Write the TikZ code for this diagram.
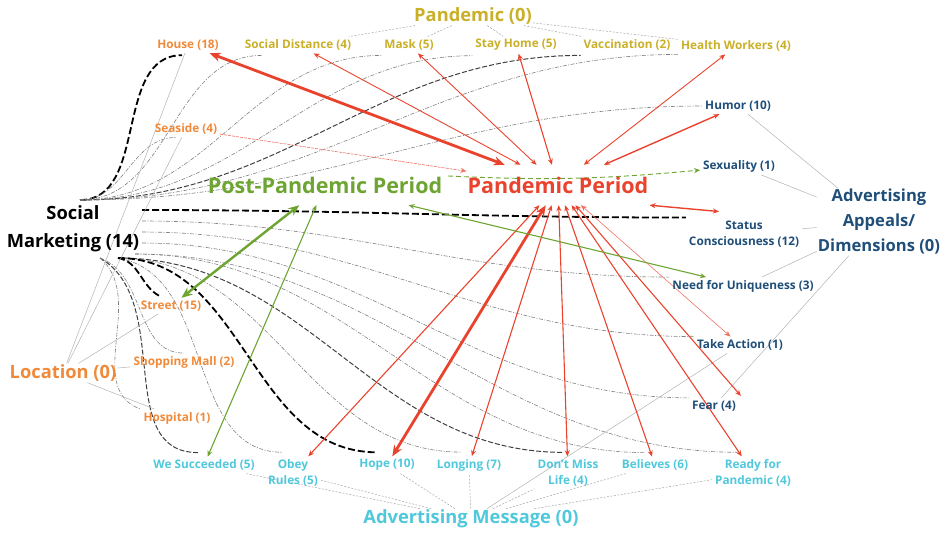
\documentclass[tikz,border=0pt]{standalone}
\usepackage{fontspec}
\setmainfont{Open Sans}
\usetikzlibrary{arrows.meta}
\definecolor{cgold}{RGB}{201,176,40}
\definecolor{corange}{RGB}{240,138,58}
\definecolor{cblue}{RGB}{31,78,121}
\definecolor{ccyan}{RGB}{80,200,220}
\definecolor{cred}{RGB}{234,67,45}
\definecolor{cgreen}{RGB}{110,165,50}
\pgfdeclarelayer{background}
\pgfsetlayers{background,main}
\tikzset{
 lbl/.style={font=\bfseries\fontsize{11.8}{16.5}\selectfont, inner sep=1pt, outer sep=2pt, align=center},
 cat/.style={font=\bfseries\fontsize{18.3}{25}\selectfont, inner sep=1pt, align=center},
 big/.style={font=\bfseries\fontsize{21.5}{24}\selectfont, inner xsep=1pt, inner ysep=0pt, minimum height=40pt},
 tipS/.tip={Stealth[length=6pt,width=5pt]},
 tipL/.tip={Stealth[length=11pt,width=9pt]},
 redarr/.style={draw=cred, line width=1.1pt, arrows={tipS-tipS}},
 redthick/.style={draw=cred, line width=2.8pt, arrows={tipL-tipL}},
 redthin/.style={draw=cred!75, line width=0.6pt},
 greenarr/.style={draw=cgreen, line width=1.1pt, arrows={tipS-tipS}},
 greenthick/.style={draw=cgreen, line width=2.4pt, arrows={tipL-tipL}},
 greendash/.style={draw=cgreen, line width=0.9pt, dash pattern=on 5pt off 3pt, arrows={-tipS}},
 smthin/.style={draw=black!50, line width=0.6pt, dash pattern=on 4pt off 1.5pt on 1pt off 1.5pt},
 smmid/.style={draw=black!75, line width=1pt, dash pattern=on 5pt off 2pt},
 smthick/.style={draw=black, line width=1.8pt, dash pattern=on 7pt off 3pt},
 catdot/.style={draw=black!35, line width=0.5pt, dash pattern=on 2pt off 1.5pt},
 catline/.style={draw=black!30, line width=0.5pt},
}
\begin{document}
\begin{tikzpicture}[x=1pt,y=-1pt]
\useasboundingbox (0,0) rectangle (950,533);

% ---------- nodes ----------
\node[cat,text=cgold] (pand) at (473,16) {Pandemic (0)};
\node[lbl,text=corange] (house) at (188,45) {House (18)};
\node[lbl,text=cgold] (socd) at (298,45) {Social Distance (4)};
\node[lbl,text=cgold] (mask) at (409,45) {Mask (5)};
\node[lbl,text=cgold] (stay) at (516,45) {Stay Home (5)};
\node[lbl,text=cgold] (vacc) at (627,45) {Vaccination (2)};
\node[lbl,text=cgold] (hw) at (736,46) {Health Workers (4)};
\node[lbl,text=cblue] (humor) at (738,106) {Humor (10)};
\node[lbl,text=corange] (seaside) at (186,129) {Seaside (4)};
\node[lbl,text=cblue] (sex) at (739,166) {Sexuality (1)};
\node[big,text=cgreen] (ppp) at (325,185) {Post-Pandemic Period};
\node[big,text=cred] (pp) at (558,185) {Pandemic Period};
\node[cat,text=black,font=\bfseries\fontsize{18.3}{28}\selectfont] (sm) at (73,229) {Social\\Marketing (14)};
\node[cat,text=cblue,font=\bfseries\fontsize{16.6}{25}\selectfont] (aa) at (879,222) {Advertising\\Appeals/\\Dimensions (0)};
\node[lbl,text=cblue] (status) at (744,234) {Status\\Consciousness (12)};
\node[lbl,text=cblue] (need) at (743,286) {Need for Uniqueness (3)};
\node[lbl,text=corange] (street) at (171,306) {Street (15)};
\node[cat,text=corange] (loc) at (63,373) {Location (0)};
\node[lbl,text=corange] (mall) at (184,362) {Shopping Mall (2)};
\node[lbl,text=cblue] (take) at (740,345) {Take Action (1)};
\node[lbl,text=corange] (hosp) at (177,418) {Hospital (1)};
\node[lbl,text=cblue] (fear) at (714,406) {Fear (4)};
\node[lbl,text=ccyan] (wes) at (204,465) {We Succeeded (5)};
\node[lbl,text=ccyan] (obey) at (293,473) {Obey\\Rules (5)};
\node[lbl,text=ccyan] (hope) at (387,465) {Hope (10)};
\node[lbl,text=ccyan] (long) at (469,465) {Longing (7)};
\node[lbl,text=ccyan] (dont) at (568,473) {Don't Miss\\Life (4)};
\node[lbl,text=ccyan] (bel) at (655,465) {Believes (6)};
\node[lbl,text=ccyan] (ready) at (753,473) {Ready for\\Pandemic (4)};
\node[cat,text=ccyan] (am) at (471,519) {Advertising Message (0)};

\coordinate (smU) at (80,200);
\coordinate (smR1) at (142,210);
\coordinate (smR2) at (142,221);
\coordinate (smR3) at (142,232);
\coordinate (smR4) at (142,243);
\coordinate (smB1) at (100,258);
\coordinate (smB2) at (118,258);
\coordinate (smB3) at (135,254);
\coordinate (pppR) at (448,176);

\begin{pgfonlayer}{background}
% ---------- Social Marketing links ----------
\draw[smthick] (smU) to[out=0,in=180] ([xshift=-6pt,yshift=-2pt]house.south);
\draw[smthin] (smU) to[out=0,in=180] ([xshift=-10pt]seaside.south);
\draw[smthin] (smU) to[out=0,in=180] ([xshift=20pt,yshift=-2pt]socd.south west);
\draw[smthin] (smU) to[out=0,in=180] ([yshift=-2pt]mask.south west);
\draw[smthin] (smU) to[out=0,in=180] ([yshift=-2pt]stay.south west);
\draw[smmid] (smU) to[out=0,in=180] ([yshift=-2pt]vacc.south west);
\draw[smthin] (smU) to[out=0,in=180] (hw.south west);
\draw[smthin] (smU) to[out=0,in=180] (humor.west);
\draw[smthick] (smR1) to[out=0,in=180] (status.north west);
\draw[smthin] (smR2) to[out=0,in=180] (need.north west);
\draw[smthin] (smR3) to[out=0,in=180] (take.north west);
\draw[smthin] (smR4) to[out=0,in=180] (fear.north west);
\draw[smthin] (smB3) to[out=0,in=180] ([xshift=-15pt,yshift=4pt]ready.north);
\draw[smthin] (smB3) to[out=0,in=180] ([xshift=-10pt,yshift=4pt]bel.north);
\draw[smmid] (smB2) to[out=0,in=180] ([xshift=-5pt,yshift=4pt]dont.north);
\draw[smthin] (smB2) to[out=0,in=180] ([xshift=-8pt,yshift=4pt]long.north);
\draw[smthick] (smB2) to[out=0,in=180] ([xshift=-10pt,yshift=4pt]hope.north);
\draw[smthin] (smB2) to[out=-10,in=180] ([xshift=-10pt,yshift=4pt]obey.north);
\draw[smmid] (smB1) to[out=-30,in=180] ([xshift=-6pt,yshift=4pt]wes.north);
\draw[smthick] (smB2) to[out=-10,in=150] ([xshift=-12pt,yshift=2pt]street.north);
\draw[smthin] (smB1) to[out=-20,in=180] (mall.north);
\draw[smthin] (smB1) to[out=-40,in=160] (hosp.north west);

% ---------- category links ----------
\foreach \t in {socd,mask,stay,vacc,hw} \draw[catdot] (pand) -- (\t);
\foreach \t in {house,seaside,street,mall,hosp} \draw[catline] (loc) -- (\t);
\foreach \t in {humor,sex,status,need,fear} \draw[catline] (aa) -- (\t);
\foreach \t in {wes,obey,hope,long,dont,bel,ready} \draw[catdot] (am) -- (\t);
\draw[catline] (am) -- (take);

% ---------- Pandemic Period ----------
\draw[redthick] (pp) -- (house);
\draw[redarr,line width=0.9pt] (pp) -- (socd);
\draw[redarr,line width=0.9pt] (pp) -- (mask);
\draw[redarr] (pp) -- (stay);
\draw[redarr,line width=0.9pt] (pp) -- (hw);
\draw[redarr,line width=1.4pt] (pp) -- (humor);
\draw[redthin,dash pattern=on 3pt off 1pt,arrows={-tipS}] (seaside) -- (pp);
\draw[redarr,line width=1.4pt] (pp.south east) -- ([xshift=-25pt,yshift=6pt]status.north);
\draw[redthin,arrows={tipS-tipS}] (pp) -- (take);
\draw[redarr] (pp) -- ([xshift=2pt,yshift=2pt]fear.north east);
\draw[redarr] (pp) -- (ready);
\draw[redarr] (pp) -- (bel);
\draw[redarr] (pp) -- (dont);
\draw[redarr] (pp) -- (long);
\draw[redthick] (pp) -- (hope);
\draw[redarr] (pp) -- (obey);

% ---------- Post-Pandemic Period ----------
\draw[greenthick] (ppp) -- (street);
\draw[greenarr] (ppp) -- (wes);
\draw[greenarr] (ppp) -- (need);
\draw[greendash] (pppR) to[bend right=4] (sex);
\end{pgfonlayer}
\end{tikzpicture}
\end{document}
